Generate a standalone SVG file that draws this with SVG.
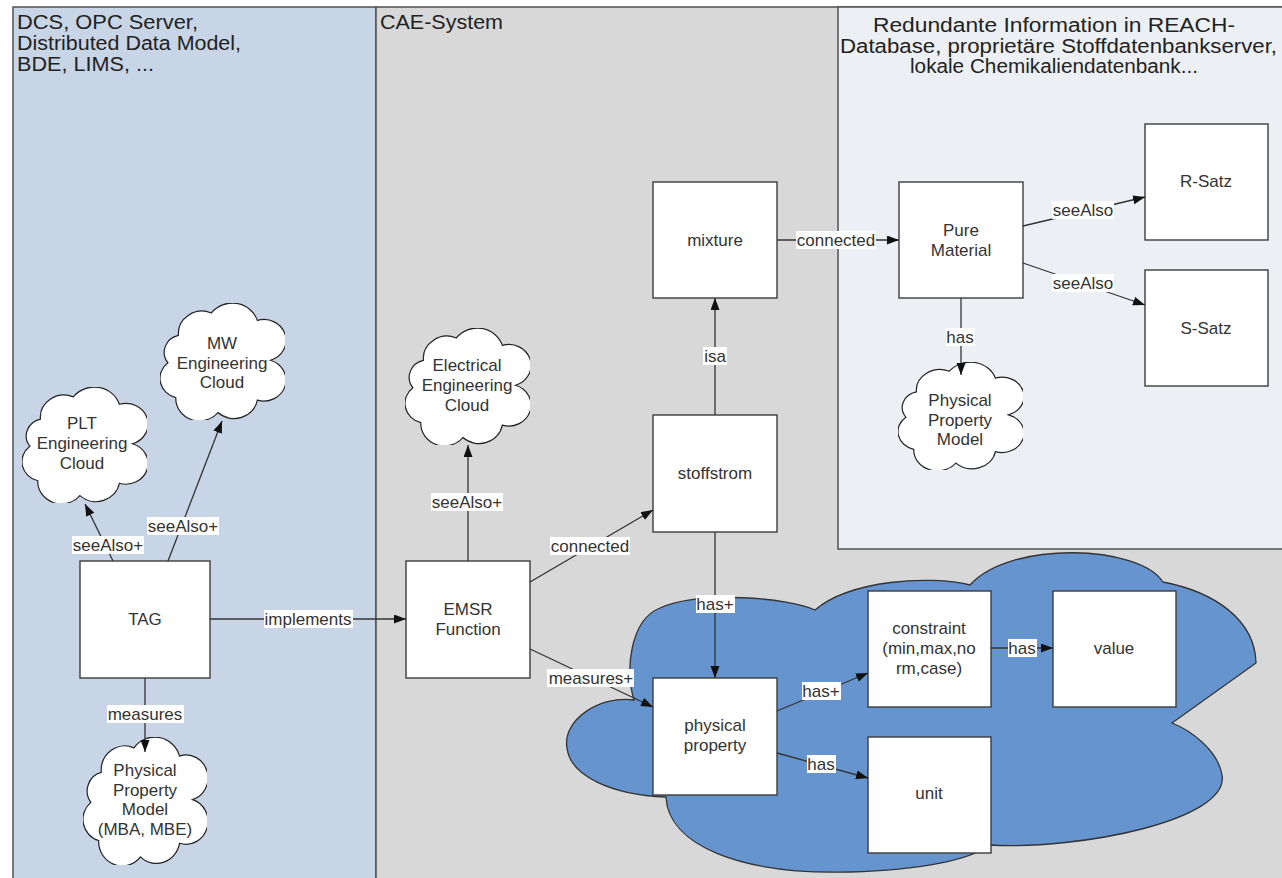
<svg xmlns="http://www.w3.org/2000/svg" xmlns:xlink="http://www.w3.org/1999/xlink" width="1282" height="878" viewBox="0 0 1282 878">
<style>
  text { font-family: "Liberation Sans", Arial, sans-serif; fill: #333; }
  .hdr { font-size: 20px; fill: #222; }
  .nt { font-size: 17px; text-anchor: middle; }
  .lt { font-size: 17px; text-anchor: middle; }
  .box { fill: #fff; stroke: #3c3c3c; stroke-width: 1.4; }
  .cl { fill: #fff; stroke: #222; stroke-width: 1.2; }
  .con { stroke: #333; stroke-width: 1.3; fill: none; marker-end: url(#arr); }
  .lbg { fill: #fff; }
  .panel { stroke: #505050; stroke-width: 1.5; }
</style>
<defs>
  <marker id="arr" markerUnits="userSpaceOnUse" markerWidth="13" markerHeight="10" refX="12" refY="4.5" orient="auto">
    <path d="M0,0 L12,4.5 L0,9 Z" fill="#111"/>
  </marker>
  <symbol id="cloud" viewBox="6 4 95 94" preserveAspectRatio="none">
    <path vector-effect="non-scaling-stroke" d="M20,30 A18,18 0 0 1 45,12 A20,20 0 0 1 80,18 A16,16 0 0 1 90,50 A16,16 0 0 1 80,82 A18,18 0 0 1 50,92 A18,18 0 0 1 18,80 A16,16 0 0 1 12,52 A14,14 0 0 1 20,30 Z"/>
  </symbol>
</defs>
<rect width="1282" height="878" fill="#fff"/>
<g id="panels">
  <rect class="panel" x="13" y="7" width="363" height="880" fill="#c8d5e6"/>
  <rect class="panel" x="376" y="7" width="920" height="880" fill="#d8d8d8"/>
  <rect class="panel" x="838" y="7" width="450" height="542" fill="#ecf0f5"/>
  <text class="hdr" x="17" y="29" textLength="181" lengthAdjust="spacingAndGlyphs">DCS, OPC Server,</text>
  <text class="hdr" x="17" y="50" textLength="224" lengthAdjust="spacingAndGlyphs">Distributed Data Model,</text>
  <text class="hdr" x="17" y="71" textLength="137" lengthAdjust="spacingAndGlyphs">BDE, LIMS, ...</text>
  <text class="hdr" x="380" y="29" textLength="123" lengthAdjust="spacingAndGlyphs">CAE-System</text>
  <text class="hdr" x="873" y="32" textLength="362" lengthAdjust="spacingAndGlyphs">Redundante Information in REACH-</text>
  <text class="hdr" x="840" y="53" textLength="437" lengthAdjust="spacingAndGlyphs">Database, proprietäre Stoffdatenbankserver,</text>
  <text class="hdr" x="910" y="73" textLength="288" lengthAdjust="spacingAndGlyphs">lokale Chemikaliendatenbank...</text>
</g>
<g id="blue-cloud">
  <path d="M634,700 C600,695 562,720 567,748 C570,775 610,795 666,797 C668,845 740,875 850,872 C920,870 970,860 990,845 C1080,850 1230,820 1222,775 C1218,750 1190,730 1172,723 L1256,663 C1255,620 1215,592 1163,582 C1140,545 1010,540 970,585 C930,575 850,580 815,610 C790,598 700,590 660,608 C630,620 625,670 634,700 Z" fill="#6594cf" stroke="#333" stroke-width="1.3"/>
</g>
<g id="node-plt">
  <use xlink:href="#cloud" href="#cloud" x="22" y="387" width="125" height="116" class="cl"/>
  <text class="nt" x="82" y="429">PLT</text>
  <text class="nt" x="82" y="449">Engineering</text>
  <text class="nt" x="82" y="469">Cloud</text>
</g>
<g id="node-mw">
  <use xlink:href="#cloud" href="#cloud" x="160" y="303" width="125" height="117" class="cl"/>
  <text class="nt" x="222" y="349">MW</text>
  <text class="nt" x="222" y="369">Engineering</text>
  <text class="nt" x="222" y="388">Cloud</text>
</g>
<g id="node-elec">
  <use xlink:href="#cloud" href="#cloud" x="405" y="328" width="125" height="117" class="cl"/>
  <text class="nt" x="467" y="371">Electrical</text>
  <text class="nt" x="467" y="391">Engineering</text>
  <text class="nt" x="467" y="411">Cloud</text>
</g>
<g id="node-ppm-left">
  <use xlink:href="#cloud" href="#cloud" x="83" y="737" width="124" height="128" class="cl"/>
  <text class="nt" x="145" y="776">Physical</text>
  <text class="nt" x="145" y="796">Property</text>
  <text class="nt" x="145" y="815">Model</text>
  <text class="nt" x="145" y="835">(MBA, MBE)</text>
</g>
<g id="node-ppm-right">
  <use xlink:href="#cloud" href="#cloud" x="898" y="362" width="125" height="108" class="cl"/>
  <text class="nt" x="960" y="406">Physical</text>
  <text class="nt" x="960" y="426">Property</text>
  <text class="nt" x="960" y="445">Model</text>
</g>
<g id="node-tag">
  <rect class="box" x="80" y="561" width="130" height="117"/>
  <text class="nt" x="145" y="625">TAG</text>
</g>
<g id="node-emsr">
  <rect class="box" x="406" y="561" width="124" height="117"/>
  <text class="nt" x="468" y="615">EMSR</text>
  <text class="nt" x="468" y="635">Function</text>
</g>
<g id="node-stoffstrom">
  <rect class="box" x="653" y="415" width="124" height="117"/>
  <text class="nt" x="715" y="479">stoffstrom</text>
</g>
<g id="node-mixture">
  <rect class="box" x="653" y="182" width="124" height="116"/>
  <text class="nt" x="715" y="246">mixture</text>
</g>
<g id="node-pure">
  <rect class="box" x="899" y="182" width="124" height="116"/>
  <text class="nt" x="961" y="236">Pure</text>
  <text class="nt" x="961" y="256">Material</text>
</g>
<g id="node-rsatz">
  <rect class="box" x="1145" y="124" width="123" height="116"/>
  <text class="nt" x="1206" y="187">R-Satz</text>
</g>
<g id="node-ssatz">
  <rect class="box" x="1145" y="270" width="123" height="116"/>
  <text class="nt" x="1206" y="334">S-Satz</text>
</g>
<g id="node-pp">
  <rect class="box" x="653" y="678" width="124" height="117"/>
  <text class="nt" x="715" y="731">physical</text>
  <text class="nt" x="715" y="751">property</text>
</g>
<g id="node-constraint">
  <rect class="box" x="868" y="591" width="123" height="116"/>
  <text class="nt" x="929" y="634">constraint</text>
  <text class="nt" x="929" y="654">(min,max,no</text>
  <text class="nt" x="929" y="674">rm,case)</text>
</g>
<g id="node-value">
  <rect class="box" x="1053" y="591" width="123" height="116"/>
  <text class="nt" x="1114" y="654">value</text>
</g>
<g id="node-unit">
  <rect class="box" x="868" y="737" width="123" height="116"/>
  <text class="nt" x="929" y="799">unit</text>
</g>
<g id="connectors">
  <line class="con" x1="113" y1="561" x2="85" y2="504"/>
  <line class="con" x1="168" y1="561" x2="222" y2="421"/>
  <line class="con" x1="210" y1="619" x2="406" y2="619"/>
  <line class="con" x1="145" y1="678" x2="145" y2="752"/>
  <line class="con" x1="468" y1="561" x2="468" y2="445"/>
  <line class="con" x1="530" y1="582" x2="653" y2="510"/>
  <line class="con" x1="530" y1="649" x2="653" y2="707"/>
  <line class="con" x1="715" y1="532" x2="715" y2="678"/>
  <line class="con" x1="715" y1="415" x2="715" y2="298"/>
  <line class="con" x1="777" y1="240" x2="899" y2="240"/>
  <line class="con" x1="1023" y1="226" x2="1145" y2="197"/>
  <line class="con" x1="1023" y1="263" x2="1145" y2="305"/>
  <line class="con" x1="961" y1="298" x2="961" y2="375"/>
  <line class="con" x1="777" y1="711" x2="868" y2="673"/>
  <line class="con" x1="777" y1="753" x2="868" y2="778"/>
  <line class="con" x1="991" y1="648" x2="1053" y2="648"/>
  <g id="labels">
    <rect class="lbg" x="72" y="536" width="72" height="18"/><text class="lt" x="108" y="551">seeAlso+</text>
    <rect class="lbg" x="147" y="517" width="72" height="18"/><text class="lt" x="183" y="532">seeAlso+</text>
    <rect class="lbg" x="264" y="610" width="89" height="18"/><text class="lt" x="308" y="625">implements</text>
    <rect class="lbg" x="107" y="705" width="77" height="18"/><text class="lt" x="145" y="720">measures</text>
    <rect class="lbg" x="431" y="493" width="72" height="18"/><text class="lt" x="467" y="508">seeAlso+</text>
    <rect class="lbg" x="550" y="537" width="80" height="18"/><text class="lt" x="590" y="552">connected</text>
    <rect class="lbg" x="547" y="669" width="87" height="18"/><text class="lt" x="591" y="684">measures+</text>
    <rect class="lbg" x="696" y="595" width="39" height="18"/><text class="lt" x="715" y="610">has+</text>
    <rect class="lbg" x="703" y="347" width="24" height="18"/><text class="lt" x="715" y="362">isa</text>
    <rect class="lbg" x="796" y="231" width="80" height="18"/><text class="lt" x="836" y="246">connected</text>
    <rect class="lbg" x="1052" y="201" width="62" height="18"/><text class="lt" x="1083" y="216">seeAlso</text>
    <rect class="lbg" x="1052" y="274" width="62" height="18"/><text class="lt" x="1083" y="289">seeAlso</text>
    <rect class="lbg" x="946" y="328" width="29" height="18"/><text class="lt" x="960" y="343">has</text>
    <rect class="lbg" x="802" y="682" width="39" height="18"/><text class="lt" x="821" y="697">has+</text>
    <rect class="lbg" x="807" y="755" width="29" height="18"/><text class="lt" x="821" y="770">has</text>
    <rect class="lbg" x="1008" y="639" width="29" height="18"/><text class="lt" x="1022" y="654">has</text>
  </g>
</g>
</svg>
